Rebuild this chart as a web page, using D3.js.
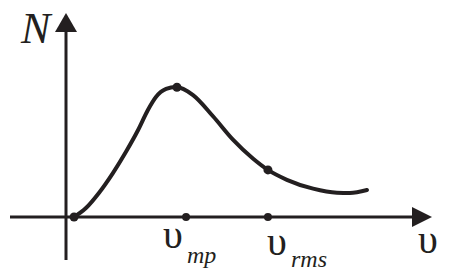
<!DOCTYPE html>
<html><head><meta charset="utf-8">
<script src="https://cdn.jsdelivr.net/npm/d3@7"></script>
<style>html,body{margin:0;padding:0;background:#fff;}svg{display:block;}</style>
</head><body>
<script>
// Speed (arbitrary units) and relative number of molecules N
const curveV = [2.3, 5.7, 9.4, 13.4, 17.1, 20.6, 23.4, 25.7, 28.6, 31.4, 36.3, 42.0, 47.7, 53.4, 57.7, 63.1, 70.6, 77.4, 81.1, 86.0];
const curveN = [0, 6.9, 18.5, 33.8, 50.0, 66.9, 82.3, 92.3, 98.5, 100, 93.8, 77.5, 59.5, 45.0, 36.2, 28.6, 21.8, 18.7, 18.5, 20.8];
const markV = [2.3, 31.7, 57.7];
const markN = [0, 99.8, 36.2];
const axisMarkV = [34.3, 57.7];
const axisLabels = ["mp", "rms"];

const W = 449, H = 279;
const svg = d3.select("body").append("svg").attr("width", W).attr("height", H);
const x = d3.scaleLinear().domain([0, 100]).range([66, 416]);
const y = d3.scaleLinear().domain([0, 100]).range([217, 87]);
const ink = "#231f20";

// axes
svg.append("line").attr("x1", 10).attr("x2", 413).attr("y1", y(0)).attr("y2", y(0))
  .attr("stroke", ink).attr("stroke-width", 3);
svg.append("path").attr("d", `M412,${y(0)-10} L432,${y(0)} L412,${y(0)+10} Z`).attr("fill", ink);
svg.append("line").attr("x1", x(0)).attr("x2", x(0)).attr("y1", 260).attr("y2", 31)
  .attr("stroke", ink).attr("stroke-width", 3);
svg.append("path").attr("d", `M${x(0)-11},32 L${x(0)},13 L${x(0)+11},32 Z`).attr("fill", ink);

// curve
const pts = curveV.map((v, i) => [v, curveN[i]]);
const line = d3.line().x(d => x(d[0])).y(d => y(d[1])).curve(d3.curveMonotoneX);
svg.append("path").attr("d", line(pts)).attr("fill", "none").attr("stroke", ink)
  .attr("stroke-width", 4).attr("stroke-linecap", "round");

markV.forEach((v, i) => svg.append("circle").attr("cx", x(v)).attr("cy", y(markN[i])).attr("r", 4.5).attr("fill", ink));
axisMarkV.forEach(v => svg.append("circle").attr("cx", x(v)).attr("cy", y(0)).attr("r", 4).attr("fill", ink));

// labels
const serif = "'Liberation Serif','Times New Roman',serif";
svg.append("text").attr("x", 21).attr("y", 43).attr("font-family", serif).attr("font-style", "italic")
  .attr("font-size", 44).attr("fill", ink).text("N");
const lab = [[163, 248, 187, 263], [267, 255, 291, 267]];
axisLabels.forEach((s, i) => {
  const [ux, uy, sx, sy] = lab[i];
  svg.append("text").attr("x", ux).attr("y", uy).attr("font-family", serif).attr("font-size", 40).attr("fill", ink).text("υ");
  svg.append("text").attr("x", sx).attr("y", sy).attr("font-family", serif).attr("font-style", "italic")
    .attr("font-size", 24).attr("fill", ink).text(s);
});
svg.append("text").attr("x", 418).attr("y", 253).attr("font-family", serif).attr("font-size", 40).attr("fill", ink).text("υ");
</script>
</body></html>
